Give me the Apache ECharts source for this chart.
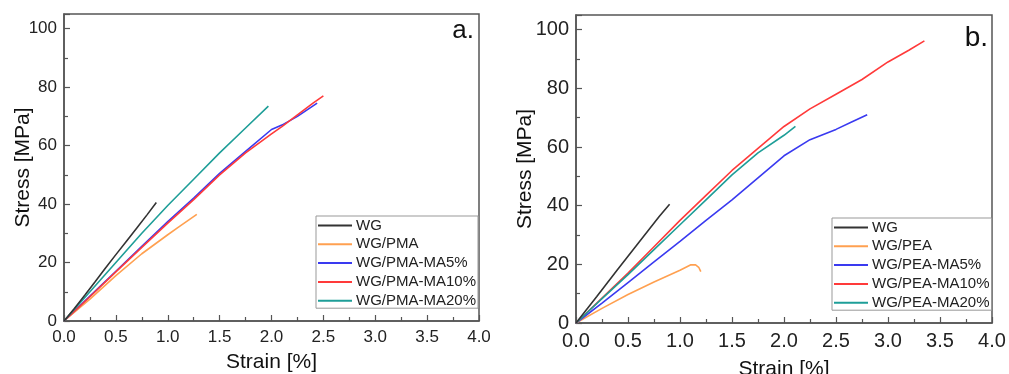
<!DOCTYPE html>
<html>
<head>
<meta charset="utf-8">
<script src="https://cdn.jsdelivr.net/npm/echarts@6/dist/echarts.min.js"></script>
<style>
html,body{margin:0;padding:0;background:#fff;}
#chart{width:1009px;height:374px;}
</style>
</head>
<body>
<div id="chart"></div>
<script>
// ---- Data (strain [%], stress [MPa]) ----
const xTicks = [0, 0.5, 1.0, 1.5, 2.0, 2.5, 3.0, 3.5, 4.0];
const yTicks = [0, 20, 40, 60, 80, 100];

const namesA = ['WG', 'WG/PMA', 'WG/PMA-MA5%', 'WG/PMA-MA10%', 'WG/PMA-MA20%'];
const namesB = ['WG', 'WG/PEA', 'WG/PEA-MA5%', 'WG/PEA-MA10%', 'WG/PEA-MA20%'];

const a_WG = [[0,0],[0.1,4.3],[0.2,8.8],[0.3,13.4],[0.4,18.1],[0.5,22.7],[0.6,27.2],[0.7,31.7],[0.8,36.3],[0.89,40.5]];
const a_PMA = [[0,0],[0.25,7.5],[0.5,15.5],[0.75,23],[1.0,29.5],[1.1,32],[1.28,36.5]];
const a_MA5 = [[0,0],[0.25,8.5],[0.5,17],[0.75,25.5],[1.0,34],[1.25,42],[1.5,50.5],[1.75,58],[2.0,65.5],[2.1,67],[2.25,70],[2.44,74.5]];
const a_MA10 = [[0,0],[0.25,8.3],[0.5,16.8],[0.75,25.2],[1.0,33.5],[1.25,41.5],[1.5,50],[1.75,57.5],[2.0,64],[2.1,66.5],[2.25,70.5],[2.4,74.5],[2.5,77]];
const a_MA20 = [[0,0],[0.25,10],[0.5,20],[0.75,30],[1.0,39.5],[1.25,48.5],[1.5,57.5],[1.75,66],[1.97,73.5]];

const b_WG = [[0,0],[0.2,9],[0.4,18.2],[0.6,27.3],[0.8,36.3],[0.9,40.5]];
const b_PEA = [[0,0],[0.25,5],[0.5,9.7],[0.75,14],[1.0,18],[1.1,19.8],[1.15,19.8],[1.18,19],[1.2,17.5]];
const b_MA5 = [[0,0],[0.25,6.8],[0.5,13.8],[0.75,20.8],[1.0,27.8],[1.25,35],[1.5,42],[1.75,49.5],[2.0,57],[2.25,62.5],[2.5,66],[2.65,68.5],[2.8,71]];
const b_MA10 = [[0,0],[0.25,8.5],[0.5,17],[0.75,26],[1.0,35],[1.25,43.5],[1.5,52],[1.75,59.5],[2.0,67],[2.25,73],[2.5,78],[2.75,83],[3.0,89],[3.2,93],[3.35,96.2]];
const b_MA20 = [[0,0],[0.25,8.3],[0.5,16.5],[0.75,25],[1.0,33.5],[1.25,42],[1.5,50.5],[1.75,58],[2.0,64],[2.11,67]];

const colors = ['#333333', '#ffa050', '#3a3af0', '#ff3a3a', '#1e9e98'];

const dataA = [a_WG, a_PMA, a_MA5, a_MA10, a_MA20];
const dataB = [b_WG, b_PEA, b_MA5, b_MA10, b_MA20];

const FONT = 'Liberation Sans, Arial, sans-serif';

function xAxis(gridIndex, fs, gap) {
  return {
    gridIndex, type: 'value', min: 0, max: 4, interval: 0.5,
    name: 'Strain [%]', nameLocation: 'middle', nameGap: gap, nameMoveOverlap: false,
    nameTextStyle: {fontFamily: FONT, fontSize: 21, color: '#111'},
    axisLine: {show: true, onZero: false, lineStyle: {color: '#555', width: 1.5}},
    axisTick: {show: true, inside: true, length: 6, lineStyle: {color: '#555', width: 1.2}},
    minorTick: {show: true, splitNumber: 2, length: 4, lineStyle: {color: '#555', width: 1.2}},
    splitLine: {show: false},
    axisLabel: {fontFamily: FONT, fontSize: fs, color: '#222', margin: 8,
      formatter: v => v.toFixed(1)}
  };
}
function yAxis(gridIndex, fs, gap) {
  return {
    gridIndex, type: 'value', min: 0, max: 105, interval: 20,
    name: 'Stress [MPa]', nameLocation: 'middle', nameGap: gap, nameMoveOverlap: false,
    nameTextStyle: {fontFamily: FONT, fontSize: 21, color: '#111'},
    axisLine: {show: true, onZero: false, lineStyle: {color: '#555', width: 1.5}},
    axisTick: {show: true, inside: true, length: 6, lineStyle: {color: '#555', width: 1.2}},
    minorTick: {show: true, splitNumber: 2, length: 4, lineStyle: {color: '#555', width: 1.2}},
    splitLine: {show: false},
    axisLabel: {fontFamily: FONT, fontSize: fs, color: '#222', margin: 7,
      showMaxLabel: false,
      formatter: v => (yTicks.indexOf(v) >= 0 ? String(v) : '')}
  };
}

const series = [];
namesA.forEach((n, i) => series.push({
  name: n, type: 'line', xAxisIndex: 0, yAxisIndex: 0, data: dataA[i],
  symbol: 'none', smooth: false, lineStyle: {width: 1.6, color: colors[i]},
  itemStyle: {color: colors[i]}, z: i === 0 ? 5 : 3
}));
namesB.forEach((n, i) => series.push({
  name: n, type: 'line', xAxisIndex: 1, yAxisIndex: 1, data: dataB[i],
  symbol: 'none', smooth: false, lineStyle: {width: 1.6, color: colors[i]},
  itemStyle: {color: colors[i]}, z: i === 0 ? 5 : 3
}));

function legend(data, left, top) {
  return {
    data: data.map(n => ({name: n, icon: 'rect'})),
    orient: 'vertical', left, top,
    itemWidth: 34, itemHeight: 2, itemGap: 3.8,
    padding: [2, 2, 0, 2],
    borderColor: '#999', borderWidth: 1, backgroundColor: '#fff',
    selectedMode: false,
    textStyle: {fontFamily: FONT, fontSize: 15, color: '#222', padding: [0, 0, 0, -1]}
  };
}

const chart = echarts.init(document.getElementById('chart'), null, {renderer: 'canvas'});
chart.setOption({
  animation: false,
  backgroundColor: '#fff',
  grid: [
    {left: 64, top: 14, width: 415, height: 307, outerBoundsMode: 'none', containLabel: false,
      show: true, borderColor: '#555', borderWidth: 1.5, backgroundColor: 'transparent'},
    {left: 576, top: 15, width: 416, height: 308, outerBoundsMode: 'none', containLabel: false,
      show: true, borderColor: '#555', borderWidth: 1.5, backgroundColor: 'transparent'}
  ],
  xAxis: [xAxis(0, 17, 31), xAxis(1, 20, 36)],
  yAxis: [yAxis(0, 17, 30), yAxis(1, 20, 40)],
  legend: [legend(namesA, 316, 216), legend(namesB, 832, 218)],
  title: [
    {text: 'a.', right: 1009 - 474, top: 18, padding: 0,
      textStyle: {fontFamily: FONT, fontSize: 26, fontWeight: 'normal', color: '#111'}},
    {text: 'b.', right: 1009 - 988, top: 24, padding: 0,
      textStyle: {fontFamily: FONT, fontSize: 28, fontWeight: 'normal', color: '#111'}}
  ],
  series
});
</script>
</body>
</html>
